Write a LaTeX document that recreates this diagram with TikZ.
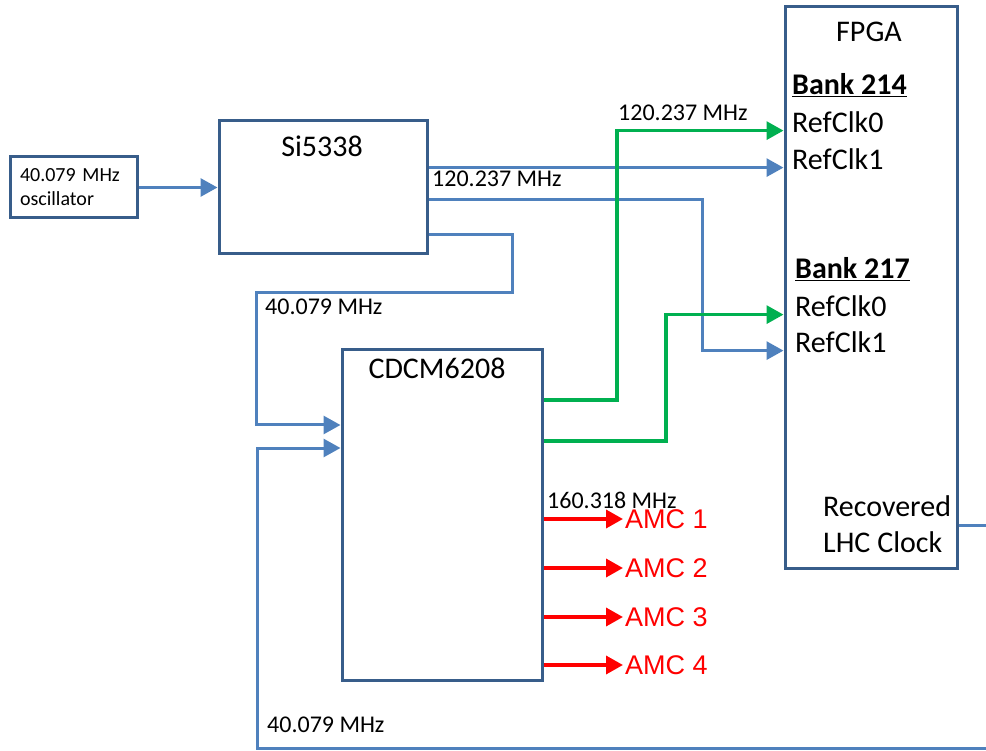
\documentclass[tikz,border=0pt]{standalone}
\usepackage{fontspec}
\setmainfont{Carlito}
\newfontfamily\amcfont{Liberation Sans}
\definecolor{clkNavy} {RGB}{ 56,  93, 138}
\definecolor{clkBlue} {RGB}{ 79, 129, 189}
\definecolor{clkGreen}{RGB}{  0, 176,  80}
\definecolor{clkRed}  {RGB}{255,   0,   0}
\usetikzlibrary{
  arrows.meta,
}

\begin{document}
\begin{tikzpicture}[
  x=1pt, y=-1pt,
  >={Triangle[length=17pt,width=18pt]},
  blk/.style={draw=clkNavy, line width=3pt, inner sep=0pt},
  bl/.style={draw=clkBlue, line width=3pt},
  gr/.style={draw=clkGreen, line width=3.3pt},
  rd/.style={draw=clkRed, line width=3.5pt},
  big/.style={inner sep=0pt, font=\fontsize{30}{36}\selectfont},
  freq/.style={inner sep=0pt, anchor=base west, font=\fontsize{24}{29}\selectfont},
  amc/.style={inner sep=2pt, anchor=west, text=clkRed, font=\amcfont\fontsize{27}{32}\selectfont},
]
  \useasboundingbox (0,0) rectangle (986,751);

  % Oscillator
  \node[blk, text width=107pt, inner sep=10pt, minimum height=61pt, align=left,
    font=\fontsize{20}{24}\selectfont] (osc) at (73.5,187.5) {40.079 MHz\\oscillator};

  % Si5338
  \node[blk, minimum width=208pt, minimum height=133pt] (si) at (323,187.5) {};
  \node[big, anchor=base] (siname) at (322,157) {Si5338};

  % CDCM6208
  \node[blk, minimum width=200pt, minimum height=330pt] (cdcm) at (442,515) {};
  \node[big, anchor=base] (cdcmname) at (437,379) {CDCM6208};

  % FPGA and its clock inputs
  \node[blk, minimum width=172pt, minimum height=561pt] (fpga) at (871,287.5) {};
  \node[big, anchor=base] (fpganame) at (869,42) {FPGA};
  \node[big, anchor=base west] (b214) at (792,95) {\textbf{\underline{Bank 214}}};
  \node[big, anchor=base west] (r14a) at (792,133) {RefClk0};
  \node[big, anchor=base west] (r14b) at (792,170) {RefClk1};
  \node[big, anchor=base west] (b217) at (795,279) {\textbf{\underline{Bank 217}}};
  \node[big, anchor=base west] (r17a) at (795,317) {RefClk0};
  \node[big, anchor=base west] (r17b) at (795,353) {RefClk1};
  \node[big, anchor=base west] (rec) at (823,516) {Recovered};
  \node[big, anchor=base west] (lhc) at (823,552) {LHC Clock};

  % Oscillator into Si5338
  \draw[bl, ->] (osc.east) -- (si.west);

  % Si5338 outputs
  \draw[bl, ->] (si.east |- r14b.mid) -- (fpga.west |- r14b.mid);
  \draw[bl, ->] (si.east |- 0,200) -| (r17b.mid -| 702,0) -- (fpga.west |- r17b.mid);
  \draw[bl, ->] (si.east |- 0,235) -| (512,293) -| (256,425) -- (cdcm.west |- 0,425);
  \node[freq] (f120a) at (432,187) {120.237 MHz};
  \node[freq] (f40a) at (265,315) {40.079 MHz};

  % CDCM6208 to FPGA
  \draw[gr, ->] (cdcm.east |- 0,400) -| (r14a.mid -| 617,0) -- (fpga.west |- r14a.mid);
  \draw[gr, ->] (cdcm.east |- 0,441) -| (r17a.mid -| 666,0) -- (fpga.west |- r17a.mid);
  \node[freq] (f120b) at (618,121) {120.237 MHz};

  % CDCM6208 to AMCs
  \foreach \n/\y in {1/519, 2/568, 3/617, 4/665} {
    \node[amc] (amc\n) at (623,\y) {AMC \n};
    \draw[rd, ->] (cdcm.east |- amc\n.west) -- (amc\n.west);
  }
  \node[freq] (f160) at (547,508) {160.318 MHz};

  % Recovered clock back into CDCM6208
  \draw[bl, ->] (fpga.east |- 0,525) -- (1000,525) |- (257,748) -- (257,448)
    -- (cdcm.west |- 0,448);
  \node[freq] (f40b) at (267,732) {40.079 MHz};

\end{tikzpicture}
\end{document}
